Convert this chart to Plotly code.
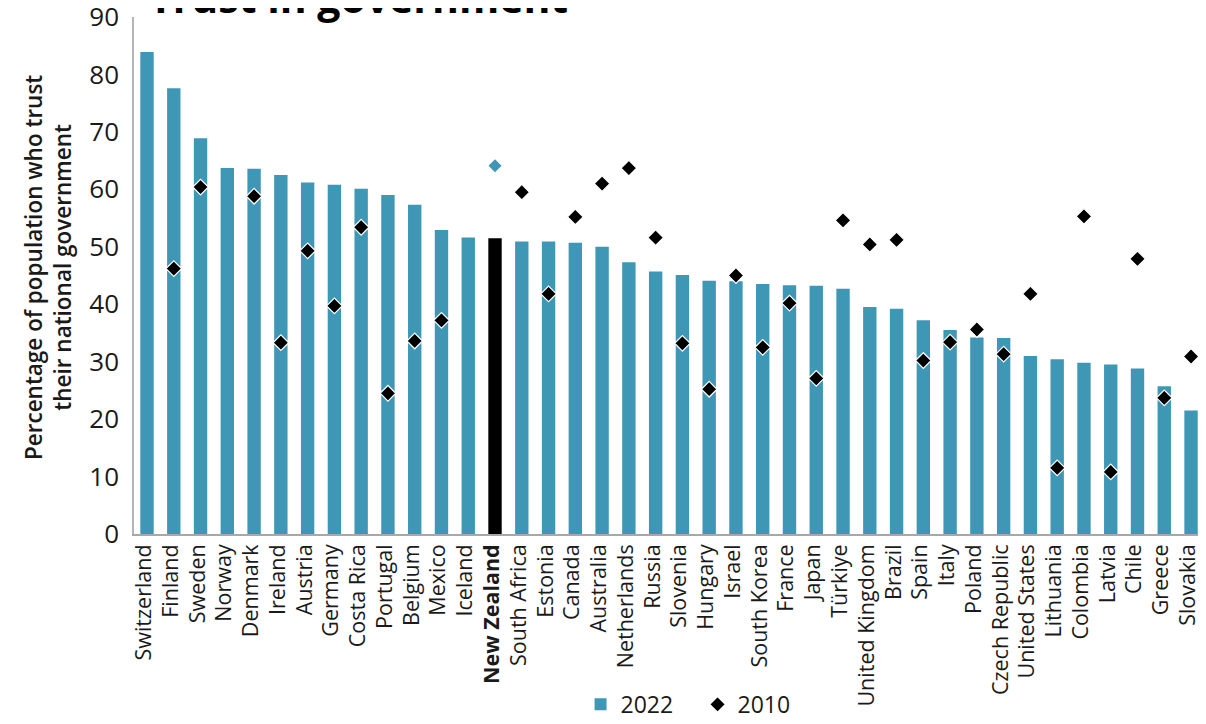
import plotly.graph_objects as go

countries = ["Switzerland", "Finland", "Sweden", "Norway", "Denmark", "Ireland", "Austria",
             "Germany", "Costa Rica", "Portugal", "Belgium", "Mexico", "Iceland", "New Zealand",
             "South Africa", "Estonia", "Canada", "Australia", "Netherlands", "Russia", "Slovenia",
             "Hungary", "Israel", "South Korea", "France", "Japan", "Türkiye", "United Kingdom",
             "Brazil", "Spain", "Italy", "Poland", "Czech Republic", "United States", "Lithuania",
             "Colombia", "Latvia", "Chile", "Greece", "Slovakia"]

trust_2022 = [83.9, 77.6, 68.9, 63.7, 63.6, 62.5, 61.2, 60.8, 60.1, 59.0, 57.3, 52.9, 51.6, 51.5,
              50.9, 50.9, 50.7, 50.0, 47.3, 45.7, 45.1, 44.1, 44.0, 43.5, 43.3, 43.2, 42.7, 39.5,
              39.2, 37.2, 35.5, 34.2, 34.1, 31.0, 30.4, 29.8, 29.5, 28.8, 25.7, 21.5]

trust_2010 = [None, 46.2, 60.4, None, 58.8, 33.3, 49.3, 39.7, 53.4, 24.5, 33.6, 37.2, None, None,
              59.5, 41.8, 55.2, 61.0, 63.7, 51.6, 33.2, 25.2, 45.0, 32.5, 40.2, 27.1, 54.6, 50.4,
              51.2, 30.2, 33.4, 35.6, 31.3, 41.8, 11.5, 55.3, 10.8, 47.9, 23.7, 30.9]

highlight = "New Zealand"
highlight_other = [64.1]  # New Zealand comparison point (teal diamond)

TEAL = "#3f97b6"
FONT = "Open Sans"
TXT = "#1a1a1a"

bar_colors = ["#000000" if c == highlight else TEAL for c in countries]
ticktext = [f"<b>{c}</b>" if c == highlight else c for c in countries]

fig = go.Figure()
fig.add_trace(go.Bar(
    x=countries, y=trust_2022, name="2022",
    marker=dict(color=bar_colors, line=dict(width=0)),
    width=0.5,
))
fig.add_trace(go.Scatter(
    x=countries, y=trust_2010, name="2010", mode="markers", cliponaxis=False,
    marker=dict(symbol="diamond", size=12, color="#000000", line=dict(color="white", width=1.2)),
))
fig.add_trace(go.Scatter(
    x=[highlight], y=highlight_other, mode="markers", showlegend=False,
    marker=dict(symbol="diamond", size=10, color=TEAL, line=dict(width=0)),
))

fig.update_layout(
    width=1190, height=708,
    margin=dict(l=126, r=0, t=9, b=181.5, autoexpand=False),
    paper_bgcolor="white", plot_bgcolor="white",
    font=dict(family=FONT, color=TXT, size=22),
    showlegend=True,
    legend=dict(orientation="h", x=0.4197, xanchor="left", y=-0.3295, yanchor="middle",
                font=dict(size=23, family=FONT, color=TXT), traceorder="normal",
                itemwidth=30, entrywidth=72, entrywidthmode="pixels",
                bgcolor="rgba(0,0,0,0)"),
    bargap=0.5,
)
fig.update_xaxes(
    type="category", range=[-0.486, 39.26],
    tickmode="array", tickvals=countries, ticktext=ticktext,
    tickangle=-90, tickfont=dict(size=21.5, family=FONT, color=TXT),
    ticklabelshift=-3, ticklabeloverflow="allow",
    showline=True, linecolor="#a8a8a8", linewidth=1.5,
    showgrid=False, ticks="", zeroline=False,
)
fig.update_yaxes(
    range=[0, 90], dtick=10, tick0=0,
    tickfont=dict(size=26, family=FONT, color=TXT),
    showline=True, linecolor="#b5b5b5", linewidth=1.5,
    showgrid=False, zeroline=False, ticks="", ticklabelstandoff=8,
    ticklabeloverflow="allow",
)
fig.add_annotation(
    text="Percentage of population who trust<br>their national government",
    xref="paper", yref="paper", x=-0.0815, y=0.515, xanchor="center", yanchor="middle",
    textangle=-90, showarrow=False,
    font=dict(size=22.5, family=FONT, color=TXT, weight=600),
)
fig.add_annotation(
    text="Trust in government",
    xref="paper", yref="paper", x=0.211, y=1.0396, xanchor="center", yanchor="middle",
    showarrow=False,
    font=dict(size=41, family=FONT, color="#000000", weight=700),
)

fig.write_html("out.html")
